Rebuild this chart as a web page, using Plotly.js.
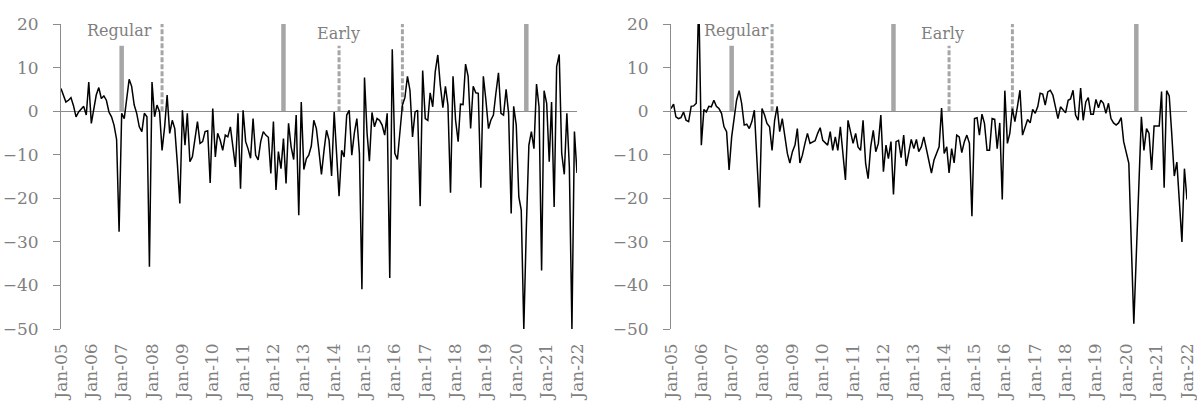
<!DOCTYPE html>
<html>
<head>
<meta charset="utf-8">
<script src="https://cdn.plot.ly/plotly-3.0.1.min.js"></script>
<style>
  html, body { margin: 0; padding: 0; background: #ffffff; }
  #chart { width: 1197px; height: 403px; }
</style>
</head>
<body>
<div id="chart"></div>
<script>
// Monthly series, January 2005 to January 2022
const firstYear = 2005;

const seriesLeft = [
  5.2, 3.5, 2.1, 2.5, 3.1, 1.2, -1.3, -0.2, 0.6, 1.1,
  -0.9, 6.7, -2.8, 0.2, 3.7, 5.4, 2.9, 3.5, 2.5, -0.2,
  -1.3, -3.2, -6.5, -27.7, -0.5, -1.7, 3.3, 7.3, 5.7, 1.4,
  -0.5, -3.6, -4.7, -0.5, -1.3, -35.7, 6.7, -1.3, 1.4, -0.2,
  -9, -3.6, 3.7, -5.1, -2.1, -4, -12, -21.2, 0.2, -7.8,
  -0.5, -11.6, -10.5, -6, -2.4, -7.4, -7, -4.7, -4.5, -16.5,
  0.6, -10.5, -5.1, -6.7, -9, -5.5, -5.9, -3.6, -8.2, -12.8,
  -0.5, -17.8, 0.2, -7, -8.6, -10.8, -1.7, -10.1, -11.2, -7,
  -4.7, -5.5, -6, -14.3, -2.4, -18.1, -9.3, -13.2, -6.3, -16.6,
  -2.8, -8.2, -11.1, -0.9, -23.9, 2.1, -13.4, -10.9, -10.1, -8,
  -2.1, -4, -9, -14.5, -9, -4.4, -6.7, -14.9, -0.2, -10,
  -19.5, -9, -10.5, -0.9, 0.2, -10.1, -5, -1.7, -9.7, -40.9,
  7.7, -5.1, -11.5, -0.3, -3.6, -1.7, -2.1, -3.2, -5.5, -0.5,
  -38.3, 14.2, -9.7, -11.1, -4, 1.4, 3.1, 8, 4.8, -5.9,
  -0.2, 0.2, -21.8, 9.3, -1.7, -2.1, 4.2, 1, 9, 12.9,
  6, 0.8, 5.7, 1.4, -18.7, 8, -2.1, -7, 1.6, 1.5,
  10.8, 8, -4, 5.7, 4.2, 4.1, -17.6, 8, 2.5, -4,
  -2.1, -0.9, 4.1, 8.8, -0.5, -0.9, 5, -0.5, -23.5, 1.1,
  -3.2, -19.7, -22.7, -50, -27, -7.8, -4.7, -8.6, 6.2, 1,
  -36.6, 4.7, 1.8, -11.6, 2.1, -22, 10.2, 13, -9.7, -14.5,
  -0.5, -12.8, -50, -4.7, -14.2
];

const seriesRight = [
  0.6, 1.6, -1.3, -1.7, -1.5, -0.2, -2.1, -2.4, 1.1, 1.2,
  1.8, 26, -7.8, 0.4, -0.2, 1.1, 1, 2.5, 1.1, 0.6,
  -0.5, -3.6, -4.7, -13.5, -5.9, -1.3, 2.5, 4.7, 1.8, -3.2,
  -3, -4, -2.4, 0.2, -10, -22.1, 0.6, -0.9, -2.8, -3.6,
  -9, -2.1, 1.1, -4.7, -1.7, -5.9, -9.7, -11.9, -9.3, -7.8,
  -4, -11.9, -10.1, -7.4, -5.1, -7.4, -7, -6.8, -5.1, -3.8,
  -6.7, -7.3, -7.8, -4.7, -9, -5.9, -9, -3.6, -9, -15.8,
  -2.1, -4.7, -7.4, -5.1, -8.2, -9, -2.1, -12, -15.5, -8.2,
  -4.4, -9.3, -7.4, -0.9, -13.9, -7.8, -10.9, -7, -19.1, -7,
  -6.7, -10.7, -5.5, -12.6, -9, -6.5, -8.6, -6.5, -9.3, -8.2,
  -5.9, -9, -11.2, -14.2, -11.2, -9.5, -8.2, 0.7, -9.7, -8.2,
  -14.2, -8.6, -11.9, -5.5, -5.9, -9.5, -7, -5.5, -7.4, -24.1,
  -1.7, -1.5, -5.5, -0.7, -2.8, -9, -9, -1.7, -1.9, -8.6,
  -2.7, -20.3, 4.7, -7.4, -5.1, 0.6, -2.4, 1.1, 4.8, -5.5,
  -3.6, -1.9, -2.7, 0.4, -0.5, 1.1, 4.1, 3.9, 1.4, 4.4,
  4.8, 3.7, 1, -1.7, 1, 0.2, -0.4, 2.5, 2.8, 4.8,
  -0.9, -2.1, 5.3, -2.1, 2.1, 3.1, -0.7, -0.7, 2.7, 0.8,
  2.5, 1.8, -0.5, 1.8, -1.7, -2.7, -3.2, -2.7, -1.5, -7,
  -9.3, -12, -30, -48.8, -33, -17, -1.3, -9, -4, -5.1,
  -13.5, -3.4, -3.4, -3.4, 4.5, -17.6, 4.7, 3.5, -5.1, -14.9,
  -11.7, -20.3, -30, -13.2, -20.3
];

// Policy markers: month, height of the bar, solid or dashed
const eventDates  = ['2007-01-01', '2008-05-01', '2012-05-01', '2014-03-01', '2016-04-01', '2020-05-01'];
const eventTops   = [15, 20, 20, 15, 20, 20];
const eventDashed = [false, true, false, true, true, false];

const xTickLabels = ['Jan-05','Jan-06','Jan-07','Jan-08','Jan-09','Jan-10','Jan-11','Jan-12','Jan-13',
                     'Jan-14','Jan-15','Jan-16','Jan-17','Jan-18','Jan-19','Jan-20','Jan-21','Jan-22'];
const yTickValues = [-50, -40, -30, -20, -10, 0, 10, 20];

function pad2(n) { return (n < 10 ? '0' : '') + n; }
const dates = seriesLeft.map((_, i) => (firstYear + Math.floor(i / 12)) + '-' + pad2(i % 12 + 1) + '-01');
const xTickValues = xTickLabels.map((_, k) => (firstYear + k) + '-01-01');

const grey = '#7f7f7f';
const axisGrey = '#8c8c8c';
const markerGrey = '#a6a6a6';
const serif = 'DejaVu Serif';

function eventTraces(xa, ya) {
  return eventDates.map((d, i) => ({
    x: [d, d], y: [0, eventTops[i]],
    xaxis: xa, yaxis: ya, mode: 'lines', hoverinfo: 'skip', showlegend: false,
    line: eventDashed[i]
      ? { color: markerGrey, width: 3, dash: '5px,2px' }
      : { color: markerGrey, width: 4.5 }
  }));
}

function seriesTrace(values, xa, ya) {
  return { x: dates, y: values, xaxis: xa, yaxis: ya, mode: 'lines',
           line: { color: '#000000', width: 1.5 }, showlegend: false };
}

const traces = [
  ...eventTraces('x', 'y'), seriesTrace(seriesLeft, 'x', 'y'),
  ...eventTraces('x2', 'y2'), seriesTrace(seriesRight, 'x2', 'y2')
];

function xAxis(domain, anchor) {
  return {
    domain: domain, anchor: anchor, type: 'date',
    range: [dates[0], dates[dates.length - 1]],
    tickmode: 'array', tickvals: xTickValues, ticktext: xTickLabels,
    tickangle: -90, ticks: '', ticklabelstandoff: 10,
    showline: false, showgrid: false, zeroline: false,
    tickfont: { family: serif, size: 17, color: grey }, automargin: false, fixedrange: true
  };
}
function yAxis(anchor) {
  return {
    domain: [74 / 403, 379 / 403], anchor: anchor, range: [-50, 20],
    tickmode: 'array', tickvals: yTickValues,
    showline: true, linecolor: axisGrey, linewidth: 1,
    ticks: 'outside', ticklen: 7, tickcolor: axisGrey, tickwidth: 1, ticklabelstandoff: 11,
    showgrid: false, zeroline: true, zerolinecolor: axisGrey, zerolinewidth: 1,
    tickfont: { family: serif, size: 17, color: grey }, automargin: false, fixedrange: true
  };
}

function label(text, xref, yref, x, y) {
  return { text: text, xref: xref, yref: yref, x: x, y: y, showarrow: false,
           xanchor: 'center', yanchor: 'middle',
           font: { family: serif, size: 16, color: grey } };
}

const layout = {
  width: 1197, height: 403,
  margin: { l: 0, r: 0, t: 0, b: 0 },
  paper_bgcolor: '#ffffff', plot_bgcolor: '#ffffff',
  showlegend: false,
  xaxis: xAxis([61 / 1197, 577 / 1197], 'y'),
  yaxis: yAxis('x'),
  xaxis2: xAxis([671 / 1197, 1187 / 1197], 'y2'),
  yaxis2: yAxis('x2'),
  annotations: [
    label('Regular', 'x', 'y', '2006-12-10', 18.4),
    label('Early', 'x', 'y', '2014-02-25', 17.9),
    label('Regular', 'x2', 'y2', '2007-02-28', 18.4),
    label('Early', 'x2', 'y2', '2013-12-10', 17.9)
  ]
};

Plotly.newPlot('chart', traces, layout, { displayModeBar: false, staticPlot: true });
</script>
</body>
</html>
